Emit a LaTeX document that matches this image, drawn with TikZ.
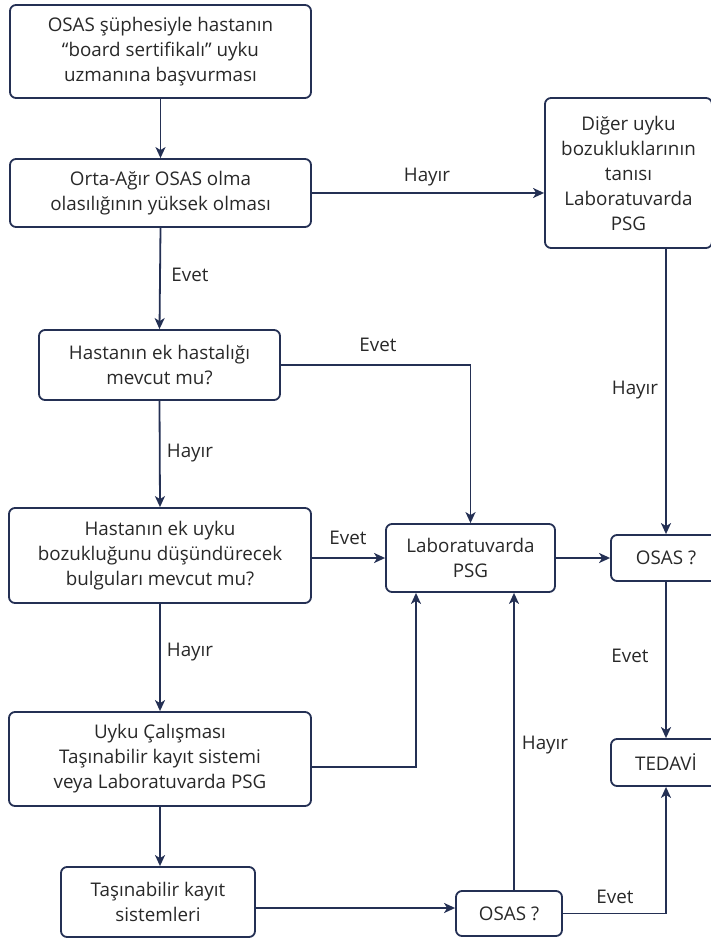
\documentclass[tikz,border=0pt]{standalone}
\usepackage{fontspec}
\setmainfont{Open Sans}
\usetikzlibrary{arrows.meta,calc}
\definecolor{ln}{RGB}{36,48,84}
\definecolor{tx}{RGB}{40,40,40}
\begin{document}
\begin{tikzpicture}[x=1pt,y=-1pt,
  box/.style={draw=ln,line width=1.8pt,rounded corners=6pt,align=center,text=tx,
    font=\fontsize{18.8}{25}\selectfont,inner sep=0pt},
  lbl/.style={text=tx,font=\fontsize{18.8}{25}\selectfont,inner sep=0pt},
  arr/.style={draw=ln,line width=1.8pt,-{Stealth[length=11pt,width=10pt,inset=3pt]}}]
\useasboundingbox (0,0) rectangle (710,941);
\node[box,minimum width=301pt,minimum height=93pt] (b1) at (160.5,51.5) {OSAS şüphesiyle hastanın\\“board sertifikalı” uyku\\uzmanına başvurması};
\node[box,minimum width=301pt,minimum height=68pt] (b2) at (160.5,193) {Orta-Ağır OSAS olma\\olasılığının yüksek olması};
\node[box,minimum width=167pt,minimum height=150pt] (dg) at (628.5,173) {Diğer uyku\\bozukluklarının\\tanısı\\Laboratuvarda\\PSG};
\node[box,minimum width=241pt,minimum height=70pt] (b3) at (159.5,365) {Hastanın ek hastalığı\\mevcut mu?};
\node[box,minimum width=302pt,minimum height=95pt] (b4) at (160,555.5) {Hastanın ek uyku\\bozukluğunu düşündürecek\\bulguları mevcut mu?};
\node[box,minimum width=169pt,minimum height=68pt] (lab) at (470.5,558) {Laboratuvarda\\PSG};
\node[box,minimum width=110pt,minimum height=46pt] (o1) at (666,558) {OSAS ?};
\node[box,minimum width=302pt,minimum height=94pt] (b5) at (160,759) {Uyku Çalışması\\Taşınabilir kayıt sistemi\\veya Laboratuvarda PSG};
\node[box,minimum width=110pt,minimum height=47pt] (td) at (666,762.5) {TEDAVİ};
\node[box,minimum width=194pt,minimum height=70pt] (b6) at (158,902) {Taşınabilir kayıt\\sistemleri};
\node[box,minimum width=106pt,minimum height=45pt] (o2) at (509,913.5) {OSAS ?};

\draw[arr] (b1.south) -- (b2.north);
\draw[arr] (b2.south) -- (b3.north);
\draw[arr] (b3.south) -- (b4.north);
\draw[arr] (b4.south) -- (b5.north);
\draw[arr] (b5.south) -- (b6.north -| b5.south);
\draw[arr] (b2.east) -- (b2.east -| dg.west);
\draw[arr] (b3.east) -| (lab.north);
\draw[arr] (lab.west -| b4.east) -- (lab.west);
\draw[arr] (lab.east) -- (o1.west);
\draw[arr] (dg.south -| o1.north) -- (o1.north);
\draw[arr] (o1.south) -- (td.north);
\coordinate (labL) at ([xshift=-54.5]lab.south);
\coordinate (labR) at ([xshift=43.5]lab.south);
\draw[arr] ([yshift=-8]b5.east) -| (labL);
\draw[arr] ([yshift=-6]b6.east) -- ([yshift=-6]b6.east -| o2.west);
\draw[arr] (o2.north -| labR) -- (labR);
\draw[arr] (o2.east) -| (td.south);

\node[lbl] (l1) at (427,177) {Hayır};
\node[lbl] (l2) at (190,275) {Evet};
\node[lbl] (l3) at (378,345) {Evet};
\node[lbl] (l4) at (190,453) {Hayır};
\node[lbl] (l5) at (348,538) {Evet};
\node[lbl] (l6) at (635,390) {Hayır};
\node[lbl] (l7) at (190,652) {Hayır};
\node[lbl] (l8) at (630,656) {Evet};
\node[lbl] (l9) at (545,745) {Hayır};
\node[lbl] (l10) at (615,897) {Evet};
\end{tikzpicture}
\end{document}
